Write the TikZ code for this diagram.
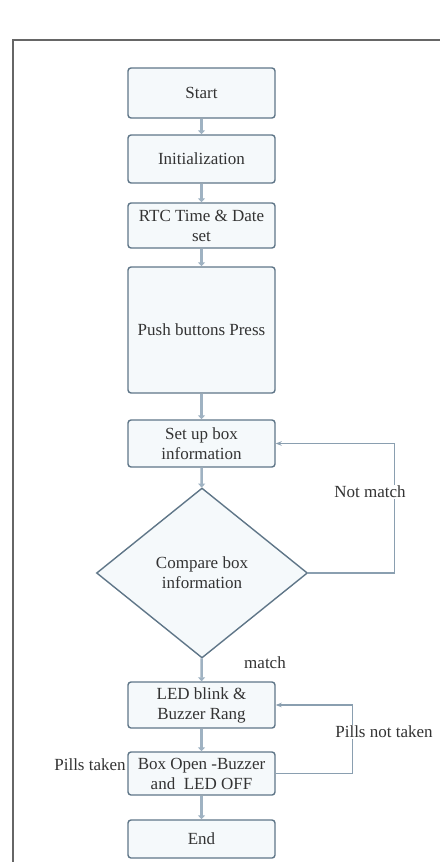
\documentclass[tikz,border=0pt]{standalone}
\usepackage{fontspec}
\setmainfont{Liberation Serif}
\usetikzlibrary{arrows.meta,shapes.geometric}
\definecolor{boxline}{HTML}{5F7688}
\definecolor{boxfill}{HTML}{F5F9FB}
\definecolor{flowline}{HTML}{9FB2C2}
\definecolor{loopline}{HTML}{8A9FB0}
\begin{document}
\begin{tikzpicture}[x=1pt,y=-1pt,
    every node/.style={font=\fontsize{17}{20}\selectfont,text=black!80},
    stepbox/.style={draw=boxline,fill=boxfill,line width=1.4pt,rounded corners=3pt,
        minimum width=147pt,inner sep=1pt,align=center},
    testbox/.style={draw=boxline,fill=boxfill,line width=1.4pt,diamond,aspect=1.24,
        minimum width=211pt,minimum height=170pt,inner sep=0pt,align=center},
    tagtext/.style={fill=white,inner sep=1pt},
    flow/.style={draw=flowline,line width=2.6pt,-{Triangle[width=7pt,length=4pt]}},
    back/.style={draw=loopline,line width=1.3pt,-{Stealth[length=6pt]}}]
    \useasboundingbox (0,0) rectangle (440,862);
    \draw [black!60,line width=1.5pt] (13,862) -- (13,40) -- (440,40);
    % main chain
    \node [stepbox,minimum height=50pt] (start) at (201.5,93) {Start};
    \node [stepbox,minimum height=48pt] (init) at (201.5,159) {Initialization};
    \node [stepbox,minimum height=45pt] (rtc) at (201.5,225.5) {RTC Time \& Date\\set};
    \node [stepbox,minimum height=126pt] (push) at (201.5,330) {Push buttons Press};
    \node [stepbox,minimum height=47pt] (setup) at (201.5,443.5) {Set up box\\information};
    \node [testbox] (cmp) at (202,573) {Compare box\\information};
    \node [stepbox,minimum height=46pt] (led) at (201.5,705) {LED blink \&\\Buzzer Rang};
    \node [stepbox,minimum height=43pt] (open) at (201.5,773.5) {Box Open -Buzzer\\and \ LED OFF};
    \node [stepbox,minimum height=38pt] (end) at (201.5,839) {End};
    \foreach \a/\b in {start/init,init/rtc,rtc/push,push/setup,setup/cmp,cmp/led,led/open,open/end}
    \draw [flow] (\a) -- (\b);
    % loops
    \draw [back] (cmp.east) -- ++(86,0) |- (setup.east);
    \draw [back] (open.east) -- ++(77,0) |- (led.east);
    \node [tagtext] (nomatch) at (370,492) {Not match};
    \node [tagtext] (match) at (265,663) {match};
    \node [tagtext] (notaken) at (384,732) {Pills not taken};
    \node (taken) at (90,765) {Pills taken};
\end{tikzpicture}
\end{document}
